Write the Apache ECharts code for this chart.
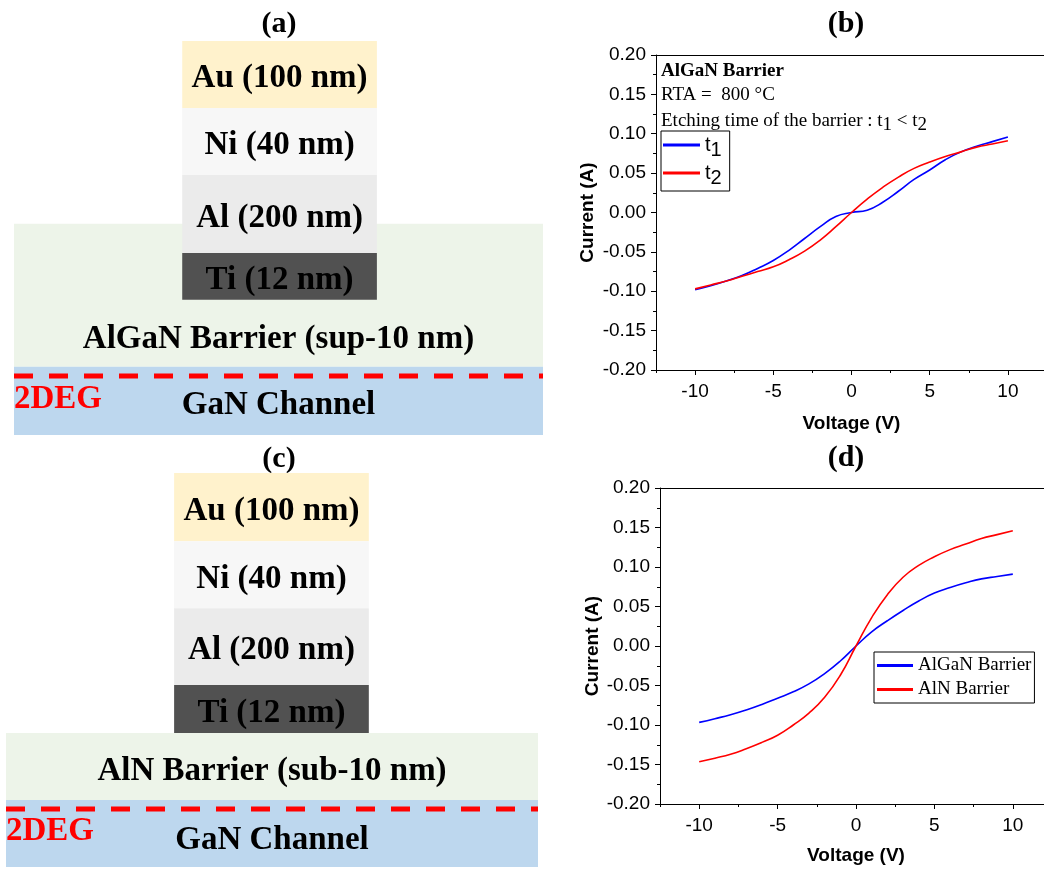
<!DOCTYPE html>
<html>
<head>
<meta charset="utf-8">
<script src="https://cdn.jsdelivr.net/npm/echarts@6/dist/echarts.min.js"></script>
<style>
  html, body { margin: 0; padding: 0; background: #ffffff; }
  #chart { width: 1044px; height: 871px; }
</style>
</head>
<body>
<div id="chart"></div>
<script>
// ---- I–V data ----
const voltage = [-10, -9, -8, -7, -6, -5, -4, -3, -2, -1, 0, 1, 2, 3, 4, 5, 6, 7, 8, 9, 10];

// (b) AlGaN barrier, RTA 800 °C, two etching times
const currentT1 = [-0.098, -0.093, -0.087, -0.080, -0.071, -0.061, -0.048, -0.033, -0.018, -0.005, 0.000, 0.003, 0.013, 0.027, 0.042, 0.054, 0.067, 0.077, 0.084, 0.090, 0.096];
const currentT2 = [-0.097, -0.092, -0.087, -0.081, -0.075, -0.069, -0.060, -0.049, -0.035, -0.018, 0.000, 0.017, 0.032, 0.045, 0.056, 0.064, 0.071, 0.077, 0.083, 0.087, 0.091];

// (d) AlGaN vs AlN barrier
const currentAlGaN = [-0.0967, -0.092, -0.087, -0.081, -0.074, -0.066, -0.058, -0.048, -0.035, -0.019, 0.000, 0.018, 0.032, 0.045, 0.057, 0.067, 0.074, 0.080, 0.085, 0.088, 0.091];
const currentAlN = [-0.1466, -0.142, -0.137, -0.130, -0.122, -0.113, -0.100, -0.085, -0.065, -0.037, 0.000, 0.036, 0.065, 0.087, 0.102, 0.113, 0.122, 0.129, 0.136, 0.141, 0.146];

// axis ticks
const voltageTicks = [-10, -5, 0, 5, 10];
const voltageMinorTicks = [-12.5, -7.5, -2.5, 2.5, 7.5, 12.5];

// ---- layer stacks ----
const metalLayers = ['Au (100 nm)', 'Ni (40 nm)', 'Al (200 nm)', 'Ti (12 nm)'];
const barrierLayerA = 'AlGaN Barrier (sup-10 nm)';
const barrierLayerC = 'AlN Barrier (sub-10 nm)';
const channelLayer = 'GaN Channel';
const gasLabel = '2DEG';
const panelTitles = ['(a)', '(b)', '(c)', '(d)'];

// schematic geometry in percent of each diagram frame: [x0, x1, yTop, yBottom, labelY]
const stackGeomA = {
  substrate: [[0, 100, 46.4, 82.7, 75.8], [0, 100, 82.7, 100, 92.4]],
  metals: [[31.8, 68.6, 0, 17.0], [31.8, 68.6, 17.0, 34.0], [31.8, 68.6, 34.0, 53.8], [31.8, 68.6, 53.8, 65.7]],
  gasY: 85.0, gasLabelY: 90.9
};
const stackGeomC = {
  substrate: [[0, 100, 66.0, 83.0, 75.7], [0, 100, 83.0, 100, 93.2]],
  metals: [[31.6, 68.2, 0, 17.3], [31.6, 68.2, 17.3, 34.3], [31.6, 68.2, 34.3, 53.8], [31.6, 68.2, 53.8, 66.0]],
  gasY: 85.3, gasLabelY: 91.0
};
const metalLabelShift = 1.1;

const layerFill = ['#EDF4E9', '#BDD7EE', '#FFF2CC', '#F7F7F7', '#EBEBEB', '#515151'];

const SERIF = '"Liberation Serif", "Times New Roman", serif';
const SANS = '"Liberation Sans", Arial, sans-serif';

function stackRows(geom) {
  return geom.substrate.concat(geom.metals.map(r => [r[0], r[1], r[2], r[3], (r[2] + r[3]) / 2 + metalLabelShift]));
}

function makeLayerRenderer(barrierName) {
  const names = [barrierName, channelLayer].concat(metalLayers);
  return function (params, api) {
    const i = params.dataIndex;
    const p0 = api.coord([api.value(0), api.value(2)]);
    const p1 = api.coord([api.value(1), api.value(3)]);
    const lp = api.coord([(api.value(0) + api.value(1)) / 2, api.value(4)]);
    return {
      type: 'group',
      children: [
        { type: 'rect', shape: { x: p0[0], y: p0[1], width: p1[0] - p0[0], height: p1[1] - p0[1] },
          style: { fill: layerFill[i] } },
        { type: 'text', x: lp[0], y: lp[1], z2: 10,
          style: { text: names[i], fill: '#000', fontFamily: SERIF, fontWeight: 'bold', fontSize: 33,
                   align: 'center', verticalAlign: 'middle' } }
      ]
    };
  };
}

function renderGasLabel(params, api) {
  const p = api.coord([api.value(0), api.value(1)]);
  return { type: 'text', x: p[0], y: p[1],
    style: { text: gasLabel, fill: '#FF0000', fontFamily: SERIF, fontWeight: 'bold', fontSize: 33,
             align: 'left', verticalAlign: 'middle' } };
}

function ivXAxes(gridIndex, nameGap) {
  return [
    {
      type: 'value', gridIndex, min: -12.5, max: 12.5, position: 'bottom',
      axisLine: { show: true, onZero: false, lineStyle: { color: '#000', width: 1 } },
      axisTick: { show: true, customValues: voltageTicks, length: 5, lineStyle: { color: '#000' } },
      axisLabel: { customValues: voltageTicks, color: '#000', fontFamily: SANS, fontSize: 19, margin: 12 },
      splitLine: { show: false },
      name: 'Voltage (V)', nameLocation: 'middle', nameGap,
      nameTextStyle: { color: '#000', fontFamily: SANS, fontWeight: 'bold', fontSize: 19 }
    },
    {
      type: 'value', gridIndex, min: -12.5, max: 12.5, position: 'bottom',
      axisLine: { show: false, onZero: false },
      axisTick: { show: true, customValues: voltageMinorTicks, length: 3, lineStyle: { color: '#000' } },
      axisLabel: { show: false },
      splitLine: { show: false }
    },
    {
      // top frame line
      type: 'value', gridIndex, min: -12.5, max: 12.5, position: 'top',
      axisLine: { show: true, onZero: false, lineStyle: { color: '#000', width: 1 } },
      axisTick: { show: false }, axisLabel: { show: false }, splitLine: { show: false }
    }
  ];
}

function ivYAxis(gridIndex, nameGap) {
  return {
    type: 'value', gridIndex, min: -0.2, max: 0.2, interval: 0.05,
    axisLine: { show: true, onZero: false, lineStyle: { color: '#000', width: 1 } },
    axisTick: { show: true, length: 5, lineStyle: { color: '#000' } },
    minorTick: { show: true, splitNumber: 2, length: 3, lineStyle: { color: '#000' } },
    axisLabel: { color: '#000', fontFamily: SANS, fontSize: 19, margin: 10, formatter: v => v.toFixed(2) },
    splitLine: { show: false },
    name: 'Current (A)', nameLocation: 'middle', nameGap, nameRotate: 90,
    nameTextStyle: { color: '#000', fontFamily: SANS, fontWeight: 'bold', fontSize: 19 }
  };
}

function ivLine(name, values, color, xAxisIndex, yAxisIndex) {
  return {
    type: 'line', name, xAxisIndex, yAxisIndex,
    data: voltage.map((v, i) => [v, values[i]]),
    smooth: 0.5, symbol: 'none', color,
    lineStyle: { color, width: 1.6 }, z: 5
  };
}

function gasLine(geom, xAxisIndex, yAxisIndex) {
  return {
    type: 'line', xAxisIndex, yAxisIndex, symbol: 'none', silent: true, z: 4,
    data: [[0, geom.gasY], [100, geom.gasY]],
    lineStyle: { color: '#FF0000', width: 5, type: [19, 16], cap: 'butt' }
  };
}

const hiddenX = gridIndex => ({ type: 'value', gridIndex, min: 0, max: 100, show: false });
const hiddenY = gridIndex => ({ type: 'value', gridIndex, min: 0, max: 100, inverse: true, show: false });

const titleText = (i, x, y) => ({
  type: 'text', x, y,
  style: { text: panelTitles[i], font: 'bold 30px ' + SERIF, fill: '#000', align: 'center', verticalAlign: 'middle' }
});

const chart = echarts.init(document.getElementById('chart'), null, { renderer: 'canvas' });

chart.setOption({
  backgroundColor: '#ffffff',
  animation: false,
  grid: [
    { left: 656, top: 55, width: 391, height: 315, outerBoundsMode: 'none', containLabel: false },
    { left: 660, top: 488, width: 392, height: 316, outerBoundsMode: 'none', containLabel: false },
    { left: 14, top: 41, width: 529, height: 394, outerBoundsMode: 'none' },
    { left: 6, top: 473, width: 532, height: 394, outerBoundsMode: 'none' }
  ],
  xAxis: [].concat(ivXAxes(0, 44), ivXAxes(1, 42), [hiddenX(2), hiddenX(3)]),
  yAxis: [ivYAxis(0, 59), ivYAxis(1, 58), hiddenY(2), hiddenY(3)],
  legend: [
    {
      data: ['t1', 't2'], orient: 'vertical', left: 661, top: 131,
      icon: 'rect', itemWidth: 37, itemHeight: 3, itemGap: 3, itemTextGap: 6,
      borderColor: '#000', borderWidth: 1, padding: [4, 8, 3, 2],
      formatter: n => '{b|t}{s|' + n.slice(1) + '}',
      textStyle: {
        rich: {
          b: { fontFamily: SANS, fontSize: 20, color: '#000' },
          s: { fontFamily: SANS, fontSize: 20, color: '#000', padding: [10, 0, 0, 0] }
        }
      },
      selectedMode: false
    },
    {
      data: ['AlGaN Barrier', 'AlN Barrier'], orient: 'vertical', left: 874, top: 652,
      icon: 'rect', itemWidth: 36, itemHeight: 3, itemGap: 5, itemTextGap: 9,
      borderColor: '#000', borderWidth: 1, padding: [4, 3, 4, 3],
      textStyle: { fontFamily: SERIF, fontSize: 19, color: '#000' },
      selectedMode: false
    }
  ],
  graphic: [
    titleText(0, 279, 24),
    titleText(1, 846, 24),
    titleText(2, 279, 459),
    titleText(3, 846, 458),
    { type: 'text', x: 661, y: 71, style: { text: 'AlGaN Barrier', font: 'bold 19px ' + SERIF, fill: '#000', align: 'left', verticalAlign: 'middle' } },
    { type: 'text', x: 661, y: 95, style: { text: 'RTA =  800 °C', font: '19px ' + SERIF, fill: '#000', align: 'left', verticalAlign: 'middle' } },
    { type: 'text', x: 661, y: 121, style: {
        text: '{n|Etching time of the barrier : t}{s|1}{n| < t}{s|2}', align: 'left', verticalAlign: 'middle',
        rich: {
          n: { fontFamily: SERIF, fontSize: 19, fill: '#000', color: '#000' },
          s: { fontFamily: SERIF, fontSize: 19, fill: '#000', color: '#000', padding: [8, 0, 0, 0] }
        } } }
  ],
  series: [
    { type: 'custom', xAxisIndex: 6, yAxisIndex: 2, data: stackRows(stackGeomA), renderItem: makeLayerRenderer(barrierLayerA), silent: true, z: 1 },
    { type: 'custom', xAxisIndex: 7, yAxisIndex: 3, data: stackRows(stackGeomC), renderItem: makeLayerRenderer(barrierLayerC), silent: true, z: 1 },
    gasLine(stackGeomA, 6, 2),
    gasLine(stackGeomC, 7, 3),
    { type: 'custom', xAxisIndex: 6, yAxisIndex: 2, data: [[0, stackGeomA.gasLabelY]], renderItem: renderGasLabel, silent: true, z: 6 },
    { type: 'custom', xAxisIndex: 7, yAxisIndex: 3, data: [[0, stackGeomC.gasLabelY]], renderItem: renderGasLabel, silent: true, z: 6 },
    ivLine('t1', currentT1, '#0000FF', 0, 0),
    ivLine('t2', currentT2, '#FF0000', 0, 0),
    ivLine('AlGaN Barrier', currentAlGaN, '#0000FF', 3, 1),
    ivLine('AlN Barrier', currentAlN, '#FF0000', 3, 1)
  ]
});
</script>
</body>
</html>
